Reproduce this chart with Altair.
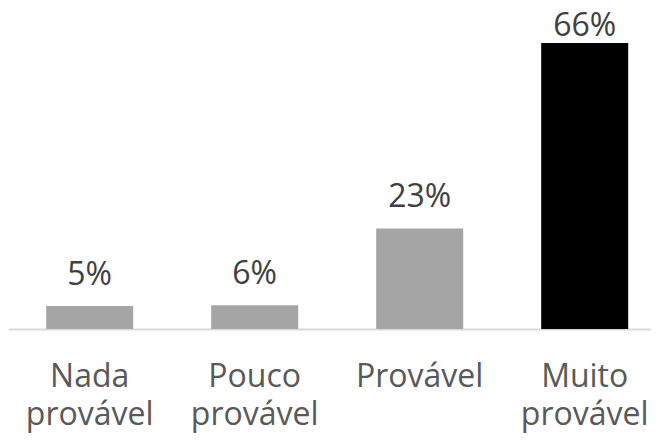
import altair as alt
import pandas as pd

categories = ["Nada provável", "Pouco provável", "Provável", "Muito provável"]
values = [5.3, 5.5, 23.2, 66.0]
value_labels = ["5%", "6%", "23%", "66%"]
bar_colors = ["#A5A5A5", "#A5A5A5", "#A5A5A5", "#000000"]

df = pd.DataFrame({
    "cat": categories,
    "value": values,
    "label": value_labels,
    "color": bar_colors,
})

x = alt.X(
    "cat:N",
    sort=categories,
    scale=alt.Scale(range=[0, 658.4], paddingInner=0.4727, paddingOuter=0.2315),
    axis=alt.Axis(
        title=None,
        labelAngle=0,
        labelExpr="split(datum.label, ' ')",
        labelFont="Open Sans",
        labelFontSize=32,
        labelColor="#595959",
        labelLineHeight=38,
        labelPadding=57,
        labelBaseline="alphabetic",
        labelOverlap=False,
        labelBound=False,
        labelLimit=0,
        ticks=False,
        tickSize=0,
        grid=False,
        domainColor="#D9D9D9",
        domainWidth=2,
    ),
)
y = alt.Y("value:Q", scale=alt.Scale(domain=[0, 74.08], nice=False, zero=True), axis=None)

bars = alt.Chart(df).mark_bar().encode(
    x=x, y=y, color=alt.Color("color:N", scale=None)
)
text_low = alt.Chart(df).transform_filter("datum.value < 60").mark_text(
    dy=-21, baseline="alphabetic", fontSize=32, font="Open Sans", color="#404040"
).encode(x=x, y=y, text="label:N")
text_high = alt.Chart(df).transform_filter("datum.value >= 60").mark_text(
    dy=-7, baseline="alphabetic", fontSize=32, font="Open Sans", color="#404040"
).encode(x=x, y=y, text="label:N")

chart = (
    alt.layer(bars, text_low, text_high)
    .properties(
        width=643,
        height=321,
        autosize=alt.AutoSizeParams(type="none"),
        padding={"left": 0, "top": 0, "right": 0, "bottom": 104},
        background="#FFFFFF",
    )
    .configure_view(stroke=None)
)

chart.save("out.html", embed_options={"renderer": "svg", "actions": False})
